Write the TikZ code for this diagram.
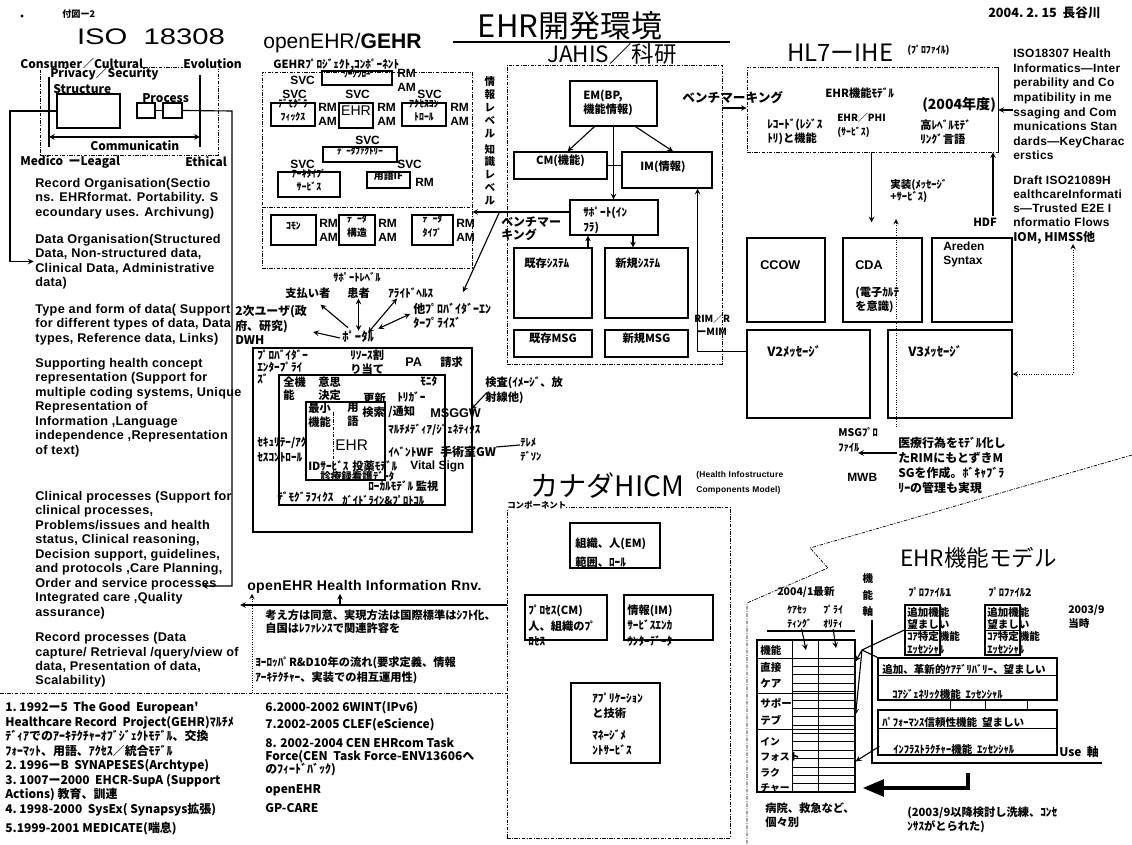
\documentclass[tikz,border=0pt]{standalone}
\usepackage{fontspec}
\usepackage{graphicx}
\setmainfont{Liberation Sans}
\newfontfamily\jp{Noto Sans CJK JP}
\newfontfamily\lat{Liberation Sans}[LetterSpace=2.5]
\usetikzlibrary{arrows,fit,positioning,calc}
\newcommand{\jpf}[2]{\jp\bfseries\fontsize{#1}{#2}\selectfont}
\newcommand{\latf}[2]{\lat\bfseries\fontsize{#1}{#2}\selectfont}

\begin{document}
\begin{tikzpicture}[
    x=0.025cm, y=-0.025cm,
    box/.style={draw, line width=0.9pt, inner sep=0pt},
    tbox/.style={box, align=center, font=\jpf{8}{10}},
    dbox/.style={draw, line width=0.5pt, dash pattern=on 2.5pt off 1pt on 0.7pt off 1pt, inner sep=0pt},
    dline/.style={line width=0.5pt, dash pattern=on 2.5pt off 1pt on 0.7pt off 1pt},
    jt/.style={font=\jpf{8}{10.3}, inner sep=0pt, align=left, anchor=west},
    lt/.style={font=\latf{9}{10.3}, inner sep=0pt, align=left, anchor=west},
    svc/.style={font=\bfseries\fontsize{8.5}{10}\selectfont, inner sep=0pt, align=left, anchor=west},
    arrow/.style={->, >=stealth, line width=0.8pt},
    darrow/.style={<->, >=stealth, line width=0.8pt},
    dotarrow/.style={->, >=stealth, line width=0.7pt, densely dotted}
]

\fill[white] (0,0) rectangle (1132,845);
\useasboundingbox (0,0) rectangle (1132,845);

% Header
\node[circle, fill, inner sep=0.8pt] (bullet) at (22,16) {};
\node[jt, font=\jpf{6.5}{8}] (fuzu) at (62,14) {付図ー2};
\node[font=\fontsize{16}{16}\selectfont, inner sep=0pt] (isotitle) at (151,37) {\scalebox{1.3}[1]{ISO\ \ 18308}};
\node[font=\jp\fontsize{22}{22}\selectfont, inner sep=0pt] (title) at (570,26) {EHR開発環境};
\draw[line width=1pt] (453,42) -- (730,42);
\node[font=\jp\fontsize{16}{16}\selectfont, inner sep=0pt] (jahistitle) at (612,54) {JAHIS／科研};
\node[jt, font=\jpf{9}{10}] (date) at (988,13) {2004.\ 2.\ 15\ \ 長谷川};

% ISO 18308 frame
\node[dbox, fit={(40,67) (218,155)}] (isoframe) {};
\node[jt, font=\jpf{8.5}{9}, fill=white] (consumer) at (20,64) {Consumer／Cultural};
\node[jt, font=\jpf{8.5}{9}, fill=white] (evolution) at (183,64) {Evolution};
\node[jt, font=\jpf{8.5}{9}, fill=white] (privacy) at (50,74) {Privacy／Security};
\draw[line width=0.9pt] (49,77) -- (49,147);
\draw[line width=0.9pt] (200,75) -- (200,147);
\node[jt, font=\jpf{8.5}{9}] (structlabel) at (53,89) {Structure};
\node[box, fit={(57,94) (120,128)}] (structure) {};
\node[jt, font=\jpf{8.5}{9}] (proclabel) at (142,98) {Process};
\node[box, fit={(137,103) (155,118)}] (procA) {};
\node[box, fit={(163,103) (182,118)}] (procB) {};
\draw[line width=0.9pt] (procA) -- (procB);
\draw[darrow] (49,137) -- (200,137);
\node[jt, font=\jpf{8.5}{9}] (commun) at (90,146) {Communicatin};
\node[jt, font=\jpf{8.5}{9}] (medico) at (20,162) {Medico\ \ ーLeagal};
\node[jt, font=\jpf{8.5}{9}] (ethical) at (185,162) {Ethical};

% ISO 18308 list
\node[lt] (recorg) at (35,198.5) {Record Organisation(Sectio\\ns. EHRformat. Portability. S\\ecoundary uses. Archivung)};
\node[lt] (dataorg) at (35,261.5) {Data Organisation(Structured\\Data, Non-structured data,\\Clinical Data, Administrative\\data)};
\node[lt] (typeform) at (35,324.5) {Type and form of data( Support\\for different types of data, Data\\types, Reference data, Links)};
\node[lt] (supportrep) at (35,407.5) {Supporting health concept\\representation (Support for\\multiple coding systems, Unique\\Representation of\\Information ,Language\\independence ,Representation\\of text)};
\node[lt] (clinical) at (35,555) {Clinical processes (Support for\\clinical processes,\\Problems/issues and health\\status, Clinical reasoning,\\Decision support, guidelines,\\and protocols ,Care Planning,\\Order and service processes\\Integrated care ,Quality\\assurance)};
\node[lt] (recproc) at (35,660) {Record processes (Data\\capture/ Retrieval /query/view of\\data, Presentation of data,\\Scalability)};
\coordinate (ordertip) at (202,586);
\draw[arrow] (structure.west) -- (10,111) |- ([xshift=-1pt]dataorg.west);
\draw[arrow] (procB.east) -- (232,111) |- (ordertip);

\draw[dline] (0,693) -- (507,693);
\node[jt, font=\jpf{8.5}{10.3}] (history) at (5,759) {1.\ 1992ー5\ \ The Good\ \ European'\\Healthcare Record\ \ Project(GEHR)ﾏﾙﾁﾒ\\ﾃﾞｨｱでのｱｰｷﾃｸﾁｬｰｵﾌﾞｼﾞｪｸﾄﾓﾃﾞﾙ、交換\\ﾌｫｰﾏｯﾄ、用語、ｱｸｾｽ／統合ﾓﾃﾞﾙ\\2.\ 1996ーB\ \ SYNAPESES(Archtype)\\3.\ 1007ー2000\ \ EHCR-SupA (Support\\Actions)\ 教育、訓連\\4.\ 1998-2000\ \ SysEx( Synapsys拡張)};
\node[jt, font=\jpf{8.5}{10}] (medicate) at (5,829) {5.1999-2001 MEDICATE(喘息)};

% openEHR / GEHR
\node[font=\fontsize{15}{15}\selectfont, inner sep=0pt, anchor=west] (gehrtitle) at (263,43) {openEHR/\textbf{GEHR}};
\node[jt, font=\jpf{8}{9}] (gehrlabel) at (273,65) {GEHRﾌﾟﾛｼﾞｪｸﾄ,ｺﾝﾎﾟｰﾈﾝﾄ};
\node[dbox, fit={(262,72) (472,268)}] (gehr) {};
\draw[dline] (262,207) -- (472,207);
\node[svc] (svc1) at (290,80) {SVC};
\node[tbox, fit={(322,71) (392,85)}, font=\jpf{6.5}{7}] (workflow) {ﾜｰｸﾌﾛｰ};
\node[svc] (rmam1) at (397,80) {RM\\AM};
\node[svc] (svc2) at (282,94) {SVC};
\node[svc] (svc3) at (345,94) {SVC};
\node[svc] (svc4) at (417,94) {SVC};
\node[tbox, fit={(271,103) (315,126)}, font=\jpf{7}{9}] (demog) {ﾃﾞﾓｸﾞﾗ\\ﾌｨｯｸｽ};
\node[svc] (rmam2) at (318,114) {RM\\AM};
\node[tbox, fit={(339,103) (373,128)}, font=\fontsize{10}{10}\selectfont] (ehrsvc) {EHR};
\node[svc] (rmam3) at (377,114) {RM\\AM};
\node[tbox, fit={(402,103) (446,126)}, font=\jpf{7}{9}] (access) {ｱｸｾｽｺﾝ\\ﾄﾛｰﾙ};
\node[svc] (rmam4) at (450,114) {RM\\AM};
\node[svc] (svc5) at (355,140) {SVC};
\node[tbox, fit={(323,147) (397,162)}, font=\jpf{6.5}{7}] (factory) {ﾃﾞｰﾀﾌｧｸﾄﾘｰ};
\node[svc] (svc6) at (290,164) {SVC};
\node[tbox, fit={(278,172) (340,197)}, font=\jpf{7}{9}] (archetype) {ｱｰｷﾀｲﾌﾟ\\ｻｰﾋﾞｽ};
\node[svc] (svc7) at (397,164) {SVC};
\node[tbox, fit={(367,172) (410,188)}, font=\jpf{7}{8}] (termif) {用語IF};
\node[svc] (rm5) at (415,182) {RM};
\node[tbox, fit={(271,215) (316,245)}, font=\jpf{7}{8}] (common) {ｺﾓﾝ};
\node[svc] (rmam6) at (319,230) {RM\\AM};
\node[tbox, fit={(339,215) (375,245)}, font=\jpf{7}{10}] (datastruct) {ﾃﾞｰﾀ\\構造};
\node[svc] (rmam7) at (378,230) {RM\\AM};
\node[tbox, fit={(412,215) (453,245)}, font=\jpf{7}{10}] (datatype) {ﾃﾞｰﾀ\\ﾀｲﾌﾟ};
\node[svc] (rmam8) at (456,230) {RM\\AM};
\node[jt, font=\jpf{7.5}{8}] (supportlevel) at (333,277) {ｻﾎﾟｰﾄﾚﾍﾞﾙ};
\node[font=\jpf{7.5}{9.2}, align=center, inner sep=0pt] (levels) at (490,141) {情\\報\\レ\\ベ\\ル\\[2pt]知\\識\\レ\\ベ\\ル};

% JAHIS
\node[dbox, fit={(507,65) (722,364)}] (jahis) {};
\node[box, fit={(570,81) (657,126)}] (em) {};
\node[jt] (emtxt) at (583,103) {EM(BP,\\機能情報)};
\node[tbox, fit={(514,152) (607,179)}] (cm) {CM(機能)};
\node[box, fit={(622,152) (712,188)}] (im) {};
\node[jt] (imtxt) at (640,167) {IM(情報)};
\node[box, fit={(570,200) (658,235)}] (sup) {};
\node[jt] (suptxt) at (583,220.5) {ｻﾎﾟｰﾄ(ｲﾝ\\ﾌﾗ)};
\node[box, fit={(514,248) (592,318)}] (kizonsys) {};
\node[jt] (kizonsystxt) at (524,263) {既存ｼｽﾃﾑ};
\node[box, fit={(605,248) (688,318)}] (shinkisys) {};
\node[jt] (shinkisystxt) at (615,263) {新規ｼｽﾃﾑ};
\node[tbox, fit={(514,330) (592,357)}] (kizonmsg) {既存MSG};
\node[tbox, fit={(605,330) (688,357)}] (shinkimsg) {新規MSG};
\node[jt, font=\jpf{7}{9}] (rim) at (694,324.5) {RIM／R\\\ ーMIM};
\draw[arrow] ([shift={(-19,0)}]em.south) -- ([shift={(7,0)}]cm.north);
\draw[arrow] ([shift={(22,0)}]em.south) -- ([shift={(6,0)}]im.north);
\draw[arrow] (em.south) -- (em.south |- sup.north);
\draw[line width=0.8pt] (cm.east) -- (cm.east -| im.west);
\coordinate (up1) at ([shift={(35,0)}]kizonsys.north);
\draw[arrow] (up1) -- (up1 |- sup.south);
\coordinate (down1) at ([shift={(19,0)}]sup.south);
\draw[arrow] (down1) -- (down1 |- shinkisys.north);
\node[jt, font=\jpf{8.5}{9.5}] (bench) at (501,228.5) {ベンチマー\\キング};
\coordinate (benchline) at (540,212);
\draw[arrow] (benchline -| sup.west) -- (benchline -| gehr.east);
\coordinate (benchtip) at (463,292);
\draw[arrow] ([shift={(-2,-3)}]bench.north west) -- (benchtip);

% HL7 - IHE
\node[font=\jp\fontsize{17}{17}\selectfont, inner sep=0pt, anchor=west] (hl7title) at (787,53) {HL7ーIHE};
\node[jt, font=\jpf{7}{8}] (profile) at (907,50) {(ﾌﾟﾛﾌｧｲﾙ)};
\node[dbox, fit={(747,67) (998,152)}] (hl7) {};
\draw[line width=0.9pt] (hl7.north east) -- (hl7.south east);
\node[jt, font=\jpf{9}{10}] (benchhl) at (682,98) {ベンチマーキング};
\coordinate (bmark) at (735,108);
\draw[arrow] (bmark -| jahis.east) -- (bmark -| hl7.west);
\node[jt] (ehrfunc) at (825,93) {EHR機能ﾓﾃﾞﾙ};
\node[jt, font=\jpf{10}{11}] (fy2004) at (922,105) {(2004年度)};
\node[jt, font=\jpf{8}{9.8}] (record) at (767,132) {ﾚｺｰﾄﾞ(ﾚｼﾞｽ\\ﾄﾘ)と機能};
\node[jt, font=\jpf{7}{9.8}] (ehrphi) at (837,125) {EHR／PHI\\(ｻｰﾋﾞｽ)};
\node[jt, font=\jpf{8}{9.8}] (highlevel) at (920,132) {高ﾚﾍﾞﾙﾓﾃﾞ\\ﾘﾝｸﾞ言語};
\draw[arrow] ([shift={(125,0)}]hl7.south west) -- ++(0,70);
\node[jt, font=\jpf{7.5}{8.5}] (impl) at (890,191) {実装(ﾒｯｾｰｼﾞ\\+ｻｰﾋﾞｽ)};
\node[jt] (hdf) at (973,222) {HDF};
\coordinate (hdfbase) at (993,216);
\draw[arrow] (hdfbase) -- (hdfbase |- hl7.south);
\node[box, fit={(747,238) (825,322)}] (ccow) {};
\node[jt, font=\bfseries\fontsize{9}{10}\selectfont] (ccowtxt) at (760,265) {CCOW};
\node[box, fit={(843,238) (922,322)}] (cda) {};
\node[jt, font=\bfseries\fontsize{9}{10}\selectfont] (cdatxt) at (855,265) {CDA};
\node[jt, font=\jpf{8}{9.8}] (cdanote) at (855,300) {(電子ｶﾙﾃ\\を意識)};
\node[box, fit={(932,238) (1012,322)}] (arden) {};
\node[jt, font=\bfseries\fontsize{8.5}{10.5}\selectfont] (ardentxt) at (943,254.5) {Areden\\Syntax};
\node[box, fit={(747,330) (870,418)}] (v2) {};
\node[jt, font=\jpf{9}{10}] (v2txt) at (767,352) {V2ﾒｯｾｰｼﾞ};
\node[box, fit={(888,330) (1012,418)}] (v3) {};
\node[jt, font=\jpf{9}{10}] (v3txt) at (908,352) {V3ﾒｯｾｰｼﾞ};
\draw[arrow] ([shift={(0,22)}]v2.north west) -| ([shift={(-15,0)}]im.south east);
\coordinate (dotbot) at (896,427);
\coordinate (dottop) at (896,219);
\draw[dotarrow] (dotbot) -- (dottop);
\node[jt, font=\jpf{7.5}{10.5}] (msgpro) at (838,439.5) {MSGﾌﾟﾛ\\ﾌｧｲﾙ};
\node[jt, font=\jpf{8.5}{10.6}] (iryo) at (898,465.5) {医療行為をﾓﾃﾞﾙ化し\\たRIMにもとずきM\\SGを作成。ﾎﾞｷｬﾌﾞﾗ\\ﾘｰの管理も実現};
\coordinate (iryoarr) at (897,453);
\draw[arrow] (iryoarr) -- (iryoarr -| msgpro.center);
\node[jt, font=\bfseries\fontsize{8.5}{10}\selectfont] (mwb) at (847,477) {MWB};

% ISO 18307 notes
\node[lt, font=\latf{8.5}{10.4}] (iso18307) at (1013,104.5) {ISO18307 Health\\Informatics—Inter\\perability and Co\\mpatibility in me\\ssaging and Com\\munications Stan\\dards—KeyCharac\\erstics};
\node[lt, font=\latf{8.5}{10}] (iso21089) at (1013,201) {Draft ISO21089H\\ealthcareInformati\\s—Trusted E2E I\\nformatio Flows};
\node[jt, font=\jpf{8.5}{10}] (iom) at (1013,238) {IOM, HIMSS他};
\coordinate (isoarr) at (1013,110);
\draw[arrow] (isoarr) -- (isoarr -| hl7.east);
\coordinate (iomdot) at (1073,244);
\draw[dotarrow, <->] (iomdot) |- (v3.east);

% Portal and EHR
\node[jt, font=\jpf{8}{9}] (payer) at (285,293) {支払い者};
\node[jt, font=\jpf{8}{9}] (patient) at (347,293) {患者};
\node[jt, font=\jpf{8}{9}] (allied) at (388,293) {ｱﾗｲﾄﾞﾍﾙｽ};
\node[jt, font=\jpf{8.5}{10}] (otherprov) at (413,316) {他ﾌﾟﾛﾊﾞｲﾀﾞｰｴﾝ\\ﾀｰﾌﾟﾗｲｽﾞ};
\node[jt, font=\jpf{8.5}{10.5}] (secondary) at (235,325) {2次ユーザ(政\\府、研究)\\DWH};
\node[jt, font=\jpf{9}{10}] (portal) at (342,337) {ﾎﾟｰﾀﾙ};
\draw[arrow] ([shift={(-2,1)}]portal.west) -- ([shift={(6,7)}]secondary.east);
\draw[arrow] ([shift={(6,-3)}]portal.north west) -- ([shift={(-10,6)}]payer.south east);
\draw[darrow] (patient.south) -- (patient.south |- portal.north);
\draw[darrow] ([shift={(10,2)}]portal.north) -- ([shift={(9,0)}]allied.south west);
\draw[darrow] ([shift={(4,-2)}]portal.north east) -- ([shift={(-3,-2)}]otherprov.west);

\node[box, fit={(253,348) (472,532)}] (ehrouter) {};
\node[box, fit={(279,375) (445,505)}] (ehrmid) {};
\node[box, fit={(306,402) (385,480)}] (ehrinner) {};
\draw[dline] (333,412) -- (333,472);
\node[jt, font=\jpf{8}{8.5}] (provent) at (257,366.5) {ﾌﾟﾛﾊﾞｲﾀﾞｰ\\ｴﾝﾀｰﾌﾟﾗｲ\\ｽﾞ};
\node[jt, font=\jpf{8}{10}] (resource) at (350,362) {ﾘｿｰｽ割\\り当て};
\node[jt, font=\bfseries\fontsize{9}{10}\selectfont] (pa) at (405,362) {PA};
\node[jt] (billing) at (440,362) {請求};
\node[jt, font=\jpf{8}{9.3}] (allfunc) at (283,388.5) {全機\\能};
\node[jt, font=\jpf{8}{9.3}] (decision) at (318,388.5) {意思\\決定};
\node[jt] (monitor) at (420,381) {ﾓﾆﾀ};
\node[jt] (update) at (363,398) {更新};
\node[jt] (trigger) at (397,397) {ﾄﾘｶﾞｰ};
\node[jt, font=\jpf{8}{10}] (minfunc) at (308,415) {最小\\機能};
\node[jt, font=\jpf{8}{10}] (term) at (347,415) {用\\語};
\node[font=\fontsize{11}{11}\selectfont, inner sep=0pt, anchor=west] (ehrcore) at (335,445) {EHR};
\node[jt] (search) at (362,412) {検索};
\node[jt] (notify) at (388,412) {/通知};
\node[jt, font=\bfseries\fontsize{9}{10}\selectfont] (msggw) at (430,413) {MSGGW};
\node[jt, font=\jpf{7.8}{9}] (multimedia) at (388,430) {ﾏﾙﾁﾒﾃﾞｨｱ/ｼﾞｪﾈﾃｨｸｽ};
\node[jt] (eventwf) at (388,452) {ｲﾍﾞﾝﾄWF};
\node[jt, font=\jpf{8.5}{9}] (orgw) at (440,452) {手術室GW};
\node[jt, font=\jpf{8}{10.5}] (security) at (257,449.5) {ｾｷｭﾘﾃｰ/ｱｸ\\ｾｽｺﾝﾄﾛｰﾙ};
\node[jt] (idsvc) at (308,466) {IDｻｰﾋﾞｽ};
\node[jt] (medmodel) at (352,466) {投薬ﾓﾃﾞﾙ};
\node[jt, font=\bfseries\fontsize{8.5}{9}\selectfont] (vital) at (410,466) {Vital Sign};
\node[jt, font=\jpf{7.5}{8}] (nursing) at (320,476) {診療録看護ﾃﾞｰﾀ};
\node[jt] (localmodel) at (368,486) {ﾛｰｶﾙﾓﾃﾞﾙ\ 監視};
\node[jt] (demog2) at (277,497) {ﾃﾞﾓｸﾞﾗﾌｨｸｽ};
\node[jt, font=\jpf{7.5}{8}] (guideline) at (342,500) {ｶﾞｲﾄﾞﾗｲﾝ\&ﾌﾟﾛﾄｺﾙ};
\node[jt, font=\jpf{8}{10.5}] (exam) at (485,390.5) {検査(ｲﾒｰｼﾞ、放\\射線他)};
\draw[arrow] ([shift={(2,2)}]exam.west) -- ([shift={(-10,1)}]msggw.north east);
\node[jt, font=\jpf{7.5}{10}] (teleme) at (520,450) {ﾃﾚﾒ\\ﾃﾞｿﾝ};
\draw[line width=0.8pt] ([shift={(0,-5)}]orgw.east) -- ([shift={(0,-5)}]teleme.west);

% openEHR Health Information
\node[dbox, fit={(507,507) (730,838)}] (hicm) {};
\node[font=\latf{10}{12}, inner sep=0pt, anchor=west] (oehr) at (247,587) {openEHR Health Information Rnv.};
\coordinate (oehrL) at (240,605);
\draw[arrow] (oehrL -| hicm.west) -- (oehrL);
\coordinate (oehrU) at (340,605);
\draw[arrow] (oehrU) -- (oehrU |- oehr.south);
\coordinate (oehrD) at (252,693);
\draw[dotarrow] (oehrD) -- (oehrD |- oehr.south);
\node[jt, font=\jpf{8}{9.3}] (concept) at (265,621.5) {考え方は同意、実現方法は国際標準はｼﾌﾄ化、\\自国はﾚﾌｧﾚﾝｽで関連許容を};
\node[jt, font=\jpf{8}{10.6}] (europe) at (255,670.5) {ﾖｰﾛｯﾊﾟR\&D10年の流れ(要求定義、情報\\ｱｰｷﾃｸﾁｬｰ、実装での相互運用性)};
\node[jt, font=\jpf{8.5}{10}] (item6) at (265,708) {6.2000-2002 6WINT(IPv6)};
\node[jt, font=\jpf{8.5}{10}] (item7) at (265,725) {7.2002-2005 CLEF(eScience)};
\node[jt, font=\jpf{8.5}{9.3}] (item8) at (265,757) {8. 2002-2004 CEN EHRcom Task\\Force(CEN\ \ Task Force-ENV13606へ\\のﾌｨｰﾄﾞﾊﾞｯｸ)};
\node[jt, font=\jpf{8.5}{10}] (openehr) at (265,790) {openEHR};
\node[jt, font=\jpf{8.5}{10}] (gpcare) at (265,808) {GP-CARE};

% Canada HICM
\node[font=\jp\fontsize{20}{20}\selectfont, inner sep=0pt, anchor=west] (hicmtitle) at (530,486) {カナダHICM};
\node[font=\lat\bfseries\fontsize{6}{10.5}\selectfont, inner sep=0pt, align=left, anchor=west] (hicmsub) at (696,482.5) {(Health Infostructure\\Components Model)};
\node[jt, font=\jpf{6}{7}, fill=white] (component) at (507,505) {コンポーネント};
\node[box, fit={(570,523) (660,568)}] (orgperson) {};
\node[jt, font=\jpf{8}{13.5}] (orgpersontxt) at (575,552.5) {組織、人(EM)\\範囲、ﾛｰﾙ};
\node[box, fit={(525,595) (607,640)}] (process) {};
\node[jt, font=\jpf{8}{11}] (processtxt) at (528,625.5) {ﾌﾟﾛｾｽ(CM)\\人、組織のﾌﾟ\\ﾛｾｽ};
\node[box, fit={(624,595) (713,640)}] (info) {};
\node[jt, font=\jpf{8}{11}] (infotxt) at (627,625.5) {情報(IM)\\ｻｰﾋﾞｽｴﾝｶ\\ｳﾝﾀｰﾃﾞｰﾀ};
\node[box, fit={(571,683) (660,763)}] (app) {};
\node[jt, font=\jpf{8}{10.6}] (apptxt) at (592,705.5) {ｱﾌﾟﾘｹｰｼｮﾝ\\と技術};
\node[jt, font=\jpf{8}{10.6}] (mgmttxt) at (592,742.5) {ﾏﾈｰｼﾞﾒ\\ﾝﾄｻｰﾋﾞｽ};

% Divider
\draw[dline] (1132,455) -- (810,548) -- (828,568) -- (747,603) -- (747,845);

% EHR functional model
\node[font=\jp\fontsize{16}{16}\selectfont, inner sep=0pt, anchor=west] (fmtitle) at (900,558) {EHR機能モデル};
\node[jt, font=\jpf{7.5}{9}] (latest) at (777,592) {2004/1最新};
\node[font=\jpf{7.5}{12}, align=center, inner sep=0pt] (funcaxis) at (868,595) {機\\能\\軸};
\node[jt, font=\jpf{7.5}{9}] (prof1lbl) at (908,592) {ﾌﾟﾛﾌｧｲﾙ1};
\node[jt, font=\jpf{7.5}{9}] (prof2lbl) at (988,592) {ﾌﾟﾛﾌｧｲﾙ2};
\node[jt, font=\jpf{7}{10}] (careset) at (787,617) {ｹｱｾｯ\\ﾃｨﾝｸﾞ};
\node[jt, font=\jpf{7}{10}] (priority) at (823,617) {ﾌﾟﾗｲ\\ｵﾘﾃｨ};
\draw[line width=0.8pt] (767,631) -- (855,631);
\node[jt, font=\jpf{7.5}{10}] (at2003) at (1068,617) {2003/9\\当時};
\node[box, fit={(757,640) (855,792)}] (tbl) {};
\foreach \cx in {792,818}
    \draw[line width=0.7pt] (\cx,640) -- (\cx,792);
\foreach \ry in {658,693,729}
    \draw[line width=0.7pt] (757,\ry) -- (855,\ry);
\foreach \k in {1,...,15}
    \draw[line width=0.5pt] (792,{658+\k*8.375}) -- (855,{658+\k*8.375});
\node[jt, font=\jpf{7.5}{8}] (rowfunc) at (760,650) {機能};
\node[jt, font=\jpf{7.5}{11.5}] (rowdirect) at (760,675) {直接\\ケア};
\node[jt, font=\jpf{7.5}{12}] (rowsupport) at (760,711.5) {サポー\\テブ};
\node[jt, font=\jpf{7}{11}] (rowinfra) at (760,765) {イン\\フォスト\\ラク\\チャー};
\coordinate (cell1) at (806,650);
\coordinate (cell2) at (836,648);
\draw[arrow] ([shift={(2,0)}]careset.south) -- (cell1);
\draw[arrow] (priority.south) -- (cell2);

\node[box, fit={(905,605) (940,655)}] (prof1) {};
\draw[line width=0.7pt] (prof1.west) -- (prof1.east);
\node[jt, font=\jpf{7.5}{8.5}] (prof1a) at (907,618) {追加機能\\望ましい};
\node[jt, font=\jpf{7.5}{9}] (prof1b) at (907,642.5) {ｺｱ特定機能\\ｴｯｾﾝｼｬﾙ};
\node[box, fit={(985,605) (1020,655)}] (prof2) {};
\draw[line width=0.7pt] (prof2.west) -- (prof2.east);
\node[jt, font=\jpf{7.5}{8.5}] (prof2a) at (987,618) {追加機能\\望ましい};
\node[jt, font=\jpf{7.5}{9}] (prof2b) at (987,642.5) {ｺｱ特定機能\\ｴｯｾﾝｼｬﾙ};

\node[box, fit={(878,658) (1057,700)}] (big1) {};
\draw[line width=0.7pt] (878,675) -- (1057,675);
\node[jt, font=\jpf{7.5}{8}] (big1a) at (882,669) {追加、革新的ｹｱﾃﾞﾘﾊﾞﾘｰ、望ましい};
\node[jt, font=\jpf{7.5}{8}] (big1b) at (892,694) {ｺｱｼﾞｪﾈﾘｯｸ機能\ \ ｴｯｾﾝｼｬﾙ};
\foreach \sx in {950,985,1027}
    \draw[line width=0.7pt] (\sx,700) -- (\sx,710);
\node[box, fit={(878,710) (1057,755)}] (big2) {};
\draw[line width=0.7pt] (878,728) -- (1057,728);
\node[jt, font=\jpf{7.5}{8}] (big2a) at (882,722) {ﾊﾟﾌｫｰﾏﾝｽ信頼性機能\ \ 望ましい};
\node[jt, font=\jpf{7.5}{8}] (big2b) at (893,749) {ｲﾝﾌﾗｽﾄﾗｸﾁｬｰ機能\ \ ｴｯｾﾝｼｬﾙ};
\node[jt, font=\jpf{8.5}{9}] (useaxis) at (1059,752) {Use\ \ 軸};

\coordinate (pjoin) at (862,650);
\draw[line width=0.8pt] (prof1.west) -- (pjoin);
\draw[line width=0.8pt] (pjoin) -- (big1.north west);
\draw[arrow] (pjoin) -- ([shift={(0,22)}]tbl.north east);
\draw[arrow] (pjoin) -- ([shift={(0,75)}]tbl.north east);
\draw[arrow] ([shift={(2,37)}]big2.north west) -- ([shift={(0,122)}]tbl.north east);
\draw[line width=1pt] (872,620) -- (872,763) -- (1102,763);
\coordinate (fbtop) at (968,773);
\coordinate (fbend) at (863,788);
\draw[line width=2.5pt, ->, >=triangle 45] (fbtop) |- (fbend);
\node[jt, font=\jpf{8}{10}] (hospital) at (765,815) {病院、救急など、\\個々別};
\node[jt, font=\jpf{8}{10}] (refined) at (907,820) {(2003/9以降検討し洗練、ｺﾝｾ\\ﾝｻｽがとられた)};

\end{tikzpicture}
\end{document}
